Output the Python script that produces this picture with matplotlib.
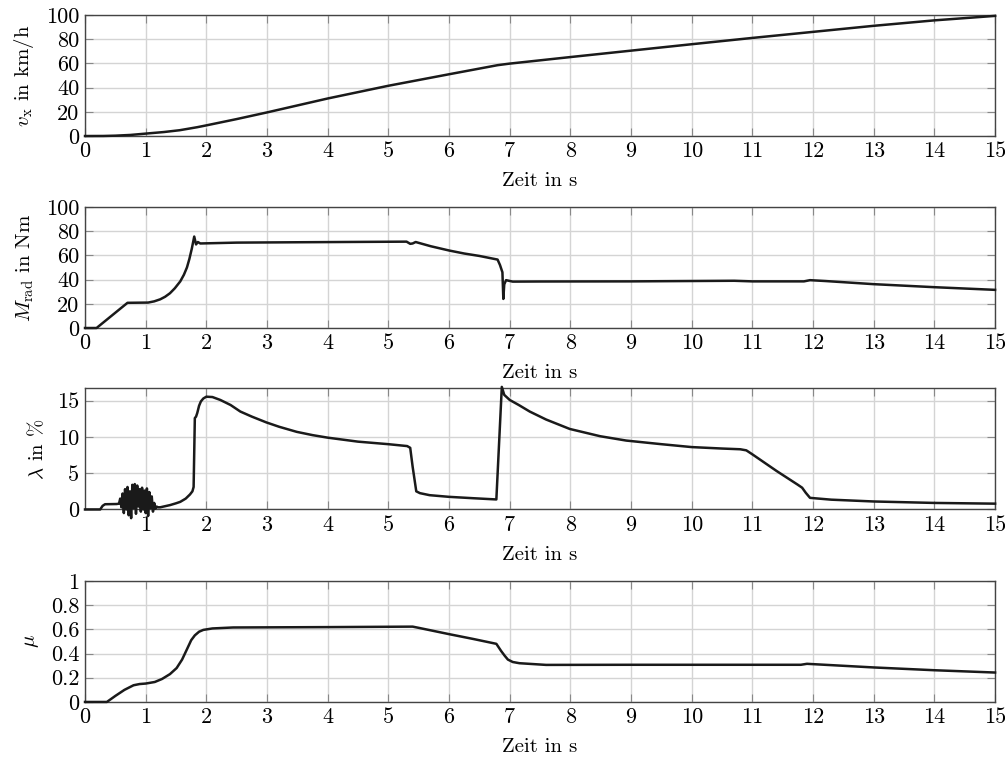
import numpy as np
import matplotlib
matplotlib.use("Agg")
import matplotlib.pyplot as plt

plt.rcParams['font.family'] = ['cmr10', 'DejaVu Serif']
plt.rcParams['mathtext.fontset'] = 'cm'
plt.rcParams['font.size'] = 15

# vehicle speed
t_v = [0, 0.3, 0.5, 0.75, 1.0, 1.3, 1.56, 1.7, 1.85, 2.0, 2.5, 3.0, 4.0, 5.0, 6.0, 6.8, 7.0, 8.0, 9.0, 10.0,
       11.0, 12.0, 13.0, 14.0, 15.0]
v_x = [0, 0.05, 0.3, 0.9, 2.0, 3.3, 4.8, 6.0, 7.3, 8.8, 14.0, 19.5, 31.0, 41.5, 51.0, 58.5, 59.8, 65.2, 70.5,
       75.8, 81.0, 86.0, 91.0, 95.5, 99.2]

# wheel torque
t_m = [0, 0.19, 0.70, 1.04, 1.14, 1.24, 1.32, 1.40, 1.48, 1.57, 1.63, 1.68, 1.72, 1.76, 1.80, 1.83, 1.86, 1.90,
       2.5, 3.5, 5.30, 5.36, 5.40, 5.45, 5.7, 6.0, 6.25, 6.5, 6.80, 6.84, 6.88, 6.895, 6.91, 6.94, 7.05, 7.5,
       9.0, 10.7, 11.0, 11.85, 11.95, 12.2, 13.0, 14.0, 15.0]
m_rad = [0, 0, 20.8, 21.0, 22.0, 23.7, 25.8, 28.7, 32.8, 38.5, 44.0, 50.0, 57.0, 65.5, 75.5, 69.0, 71.0, 69.8,
         70.5, 70.8, 71.3, 69.5, 69.8, 71.0, 67.5, 64.0, 61.5, 59.5, 56.5, 52.0, 46.0, 24.0, 36.0, 39.5, 38.3,
         38.4, 38.5, 39.0, 38.5, 38.5, 39.5, 38.8, 36.2, 33.7, 31.5]

# slip
t_l = [0, 0.25, 0.29, 0.33, 0.52, 0.56,
       0.58, 0.60, 0.62, 0.64, 0.66, 0.68, 0.70, 0.72, 0.74, 0.76, 0.78, 0.80, 0.82, 0.84, 0.86, 0.88,
       0.90, 0.92, 0.94, 0.96, 0.98, 1.00, 1.02, 1.04, 1.06, 1.08, 1.10, 1.12, 1.14, 1.16, 1.18, 1.20,
       1.24, 1.32, 1.40, 1.50, 1.57, 1.66, 1.73, 1.77, 1.79, 1.81, 1.83, 1.85, 1.88, 1.91, 1.95, 2.0, 2.1,
       2.23, 2.4, 2.56, 2.75, 2.99, 3.2, 3.49, 3.75, 4.0, 4.5, 5.0, 5.31, 5.36, 5.40, 5.46, 5.52, 5.68, 6.0,
       6.40, 6.78, 6.87, 6.91, 7.0, 7.15, 7.33, 7.6, 7.99, 8.49, 8.92, 9.5, 10.0, 10.5, 10.8, 10.9, 11.0,
       11.4, 11.75, 11.82, 11.88, 11.95, 12.3, 13.0, 14.0, 15.0]
lam = [0, 0, 0.5, 0.72, 0.75, 0.8,
       1.5, 0.3, 2.2, -0.5, 2.8, 0.0, 3.1, -0.8, 2.5, -1.2, 3.4, 0.2, 3.5, -0.6, 3.3, 0.4,
       2.8, -0.3, 3.0, 0.0, 2.6, -0.5, 2.9, -0.9, 2.4, 0.2, 1.8, -0.3, 0.9, 0.1, 0.4, 0.3,
       0.3, 0.45, 0.6, 0.85, 1.05, 1.5, 2.07, 2.5, 3.1, 12.6, 12.8, 13.3, 14.3, 14.9, 15.3, 15.55, 15.5,
       15.1, 14.4, 13.5, 12.8, 12.0, 11.4, 10.7, 10.25, 9.9, 9.35, 9.0, 8.74, 8.5, 5.9, 2.5, 2.25, 1.97, 1.74,
       1.55, 1.38, 16.9, 15.8, 15.1, 14.4, 13.5, 12.4, 11.1, 10.1, 9.5, 9.0, 8.6, 8.4, 8.3, 8.15, 7.6,
       5.3, 3.4, 3.0, 2.3, 1.6, 1.35, 1.1, 0.9, 0.8]

# friction coefficient
t_mu = [0, 0.36, 0.5, 0.65, 0.8, 0.9, 1.0, 1.15, 1.27, 1.4, 1.51, 1.6, 1.68, 1.75, 1.81, 1.88, 1.95, 2.1, 2.44,
        4.0, 5.4, 5.5, 6.0, 6.4, 6.78, 6.86, 6.92, 6.97, 7.05, 7.16, 7.6, 9.0, 11.8, 11.9, 13.0, 14.0, 15.0]
mu = [0, 0, 0.05, 0.1, 0.138, 0.148, 0.152, 0.165, 0.19, 0.23, 0.28, 0.35, 0.435, 0.51, 0.55, 0.58, 0.595,
      0.607, 0.615, 0.618, 0.622, 0.612, 0.56, 0.52, 0.48, 0.42, 0.38, 0.35, 0.33, 0.32, 0.306, 0.307, 0.307,
      0.315, 0.285, 0.262, 0.243]

x_ticks = [str(k) for k in range(0, 16)]

fig = plt.figure(figsize=(10.05, 7.57), dpi=100)

panels = [
    (t_v, v_x, r'$v_\mathrm{x}$ in km/h', (0, 100), [0, 20, 40, 60, 80, 100], 0.8203),
    (t_m, m_rad, r'$M_\mathrm{rad}$ in Nm', (0, 100), [0, 20, 40, 60, 80, 100], 0.5667),
    (t_l, lam, r'$\lambda$ in $\%$', (0, 16.7), [0, 5, 10, 15], 0.3270),
    (t_mu, mu, r'$\mu$', (0, 1), [0, 0.2, 0.4, 0.6, 0.8, 1], 0.0727),
]

for i, (t, y, lab, ylim, yt, bottom) in enumerate(panels):
    ax = fig.add_axes([0.0846, bottom, 0.9055, 0.160])
    ax.plot(t, y, color='#1a1a1a', linewidth=1.8, clip_on=False, zorder=5)
    ax.set_xlim(0, 15)
    ax.set_ylim(*ylim)
    if i == 2:
        ax.set_xticks(range(1, 16))
        ax.set_xticklabels(x_ticks[1:])
    else:
        ax.set_xticks(range(0, 16))
        ax.set_xticklabels(x_ticks)
    ax.set_yticks(yt)
    ax.set_yticklabels([('%g' % v) for v in yt])
    ax.grid(True, color='#d4d4d4', linewidth=1.0)
    ax.set_axisbelow(True)
    ax.tick_params(direction='in', top=True, right=True, length=6, color='#888888', pad=4, labelsize=16)
    for s in ax.spines.values():
        s.set_color('#444444')
        s.set_linewidth(1.0)
    ax.set_xlabel('Zeit in s', labelpad=8)
    ax.set_ylabel(lab, labelpad=7)

plt.savefig('out.png', dpi=100)
